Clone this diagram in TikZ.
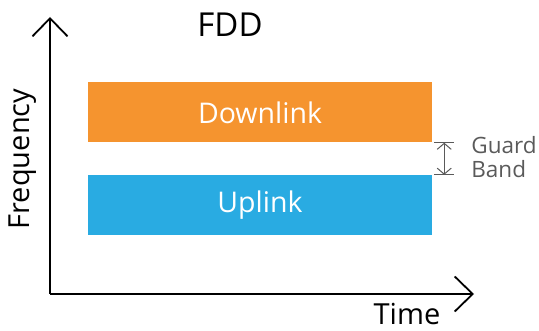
\documentclass[tikz,border=0pt]{standalone}
\usepackage{fontspec}
\setmainfont{Open Sans}
\usepackage{xcolor}
\usetikzlibrary{positioning,arrows.meta,calc}
\definecolor{dlorange}{HTML}{F5942F}
\definecolor{ulblue}{HTML}{29ABE2}
\definecolor{gbgray}{HTML}{5A5A5A}
\tikzset{
  axis/.style={line width=1.8pt,-{Straight Barb[length=18pt,width=35pt,line width=1.8pt]}},
  band/.style={minimum width=344pt,minimum height=60pt,inner sep=0pt,text=white,font=\fontsize{28.5}{32}\selectfont},
  lbl/.style={inner sep=0pt,font=\fontsize{29}{34}\selectfont}
}

\begin{document}
\begin{tikzpicture}[x=1pt,y=-1pt]
\useasboundingbox (0,0) rectangle (539,331);
\coordinate (o) at (50,294);
\coordinate (ytip) at (50,17);
\coordinate (xtip) at (474,294);
\draw[axis] (o) -- (ytip);
\draw[axis] (o) -- (xtip);
\node[band,fill=dlorange] (dl) at (260,112.5) {Downlink};
\node[band,fill=ulblue] (ul) at (260,205) {Uplink};
\node[lbl,font=\fontsize{33}{38}\selectfont] (fdd) at (230,25) {FDD};
\node[lbl,rotate=90] (freq) at (23,159) {Frequency};
\node[lbl] (time) at (407,314) {Time};
% guard band
\coordinate (gt) at ($(dl.south east)+(12,0)$);
\coordinate (gb) at ($(ul.north east)+(12,0)$);
\draw[gbgray,line width=1.2pt] ($(gt)+(-10,0)$) -- ($(gt)+(10,0)$);
\draw[gbgray,line width=1.2pt] ($(gb)+(-10,0)$) -- ($(gb)+(10,0)$);
\draw[gbgray,line width=1pt,{Straight Barb[length=6pt,width=14pt]}-{Straight Barb[length=6pt,width=14pt]}] (gt) -- (gb);
\node[right=27pt of $(gt)!0.5!(gb)$,yshift=2pt,align=left,text=gbgray,inner sep=0pt,font=\fontsize{22.5}{24}\selectfont] (gbl) {Guard\\Band};
\end{tikzpicture}
\end{document}
